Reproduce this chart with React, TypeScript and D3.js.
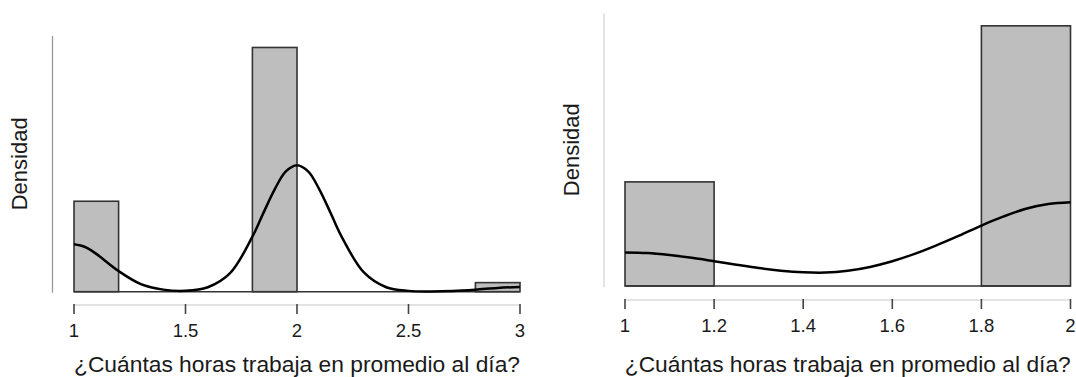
import React from 'react';
import * as d3 from 'd3';

// ---------- Data ----------
const binWidth = 0.2;

// Left panel: histogram densities per 0.2 bin, from 1.0 to 3.0
const leftBinStarts = [1.0, 1.2, 1.4, 1.6, 1.8, 2.0, 2.2, 2.4, 2.6, 2.8];
const leftBinDensity = [1.316, 0, 0, 0, 3.553, 0, 0, 0, 0, 0.132];
const leftTicks = [1, 1.5, 2, 2.5, 3];
const leftTickLabels = ['1', '1.5', '2', '2.5', '3'];
const leftCurveX = [1.0, 1.05, 1.1, 1.2, 1.3, 1.4, 1.5, 1.6, 1.7, 1.8, 1.85, 1.9, 1.95, 2.0, 2.05, 2.1, 2.15, 2.2, 2.3, 2.4, 2.5, 2.6, 2.7, 2.8, 2.9, 3.0];
const leftCurveY = [0.69, 0.65, 0.55, 0.30, 0.11, 0.03, 0.013, 0.065, 0.27, 0.80, 1.15, 1.49, 1.75, 1.84, 1.75, 1.49, 1.15, 0.80, 0.28, 0.065, 0.012, 0.004, 0.011, 0.03, 0.055, 0.07];

// Right panel: histogram densities per 0.2 bin, from 1.0 to 2.0
const rightBinStarts = [1.0, 1.2, 1.4, 1.6, 1.8];
const rightBinDensity = [1.429, 0, 0, 0, 3.571];
const rightTicks = [1, 1.2, 1.4, 1.6, 1.8, 2];
const rightTickLabels = ['1', '1.2', '1.4', '1.6', '1.8', '2'];
const rightCurveX = [1.0, 1.05, 1.1, 1.15, 1.2, 1.25, 1.3, 1.35, 1.4, 1.45, 1.5, 1.55, 1.6, 1.65, 1.7, 1.75, 1.8, 1.85, 1.9, 1.95, 2.0];
const rightCurveY = [0.46, 0.452, 0.425, 0.387, 0.34, 0.292, 0.246, 0.21, 0.188, 0.184, 0.21, 0.262, 0.34, 0.44, 0.56, 0.69, 0.83, 0.955, 1.06, 1.125, 1.15];

const yLabel = 'Densidad';
const xLabel = '¿Cuántas horas trabaja en promedio al día?';

const FONT = '"Liberation Sans", Arial, Helvetica, sans-serif';

type PanelProps = {
  x0: number; x1: number; xDomain: [number, number];
  baseY: number; topY: number; yMax: number;
  axisLineX: number; axisLineColor: string;
  xAxisY: number; tickLabelY: number; titleY: number; yLabelX: number;
  binStarts: number[]; binDensity: number[];
  curveX: number[]; curveY: number[];
  ticks: number[]; tickLabels: string[];
};

function Panel(p: PanelProps) {
  const x = d3.scaleLinear().domain(p.xDomain).range([p.x0, p.x1]);
  const y = d3.scaleLinear().domain([0, p.yMax]).range([p.baseY, p.topY]);
  const line = d3.line<number>()
    .x((_, i) => x(p.curveX[i]))
    .y((d) => y(d))
    .curve(d3.curveCatmullRom.alpha(0.5));
  const midY = (p.baseY + p.topY) / 2;
  return (
    <g>
      {/* y axis line */}
      <line x1={p.axisLineX} x2={p.axisLineX} y1={p.topY} y2={p.baseY + 1} stroke={p.axisLineColor} strokeWidth={1.3} />
      {/* histogram bars */}
      {p.binStarts.map((b, i) => p.binDensity[i] > 0 ? (
        <rect key={i} x={x(b)} y={y(p.binDensity[i])} width={x(b + binWidth) - x(b)} height={y(0) - y(p.binDensity[i])}
          fill="#bebebe" stroke="#333" strokeWidth={1.6} />
      ) : null)}
      {/* zero-height bins baseline */}
      <line x1={x(p.xDomain[0])} x2={x(p.xDomain[1])} y1={y(0)} y2={y(0)} stroke="#333" strokeWidth={1.6} />
      {/* density curve */}
      <path d={line(p.curveY) || ''} fill="none" stroke="#000" strokeWidth={2.5} />
      {/* x axis */}
      <line x1={x(p.xDomain[0])} x2={x(p.xDomain[1])} y1={p.xAxisY} y2={p.xAxisY} stroke="#e3e3e3" strokeWidth={2} />
      {p.ticks.map((t, i) => (
        <g key={i}>
          <line x1={x(t)} x2={x(t)} y1={p.xAxisY - 1} y2={p.xAxisY + 9} stroke="#444" strokeWidth={1.6} />
          <text x={x(t)} y={p.tickLabelY} textAnchor="middle" fontSize={18.5} fill="#1a1a1a" fontFamily={FONT}>{p.tickLabels[i]}</text>
        </g>
      ))}
      <text x={(p.x0 + p.x1) / 2} y={p.titleY} textAnchor="middle" fontSize={22.8} fill="#1a1a1a" fontFamily={FONT}>{xLabel}</text>
      <text transform={`translate(${p.yLabelX},${midY}) rotate(-90)`} textAnchor="middle" fontSize={22} fill="#1a1a1a" fontFamily={FONT}>{yLabel}</text>
    </g>
  );
}

export default function App() {
  return (
    <svg width={1076} height={377} style={{ position: 'absolute', left: 0, top: 0, background: '#fff' }}>
      <rect width={1076} height={377} fill="#fff" />
      <Panel x0={74} x1={520} xDomain={[1, 3]} baseY={291.7} topY={36} yMax={3.72}
        axisLineX={52.5} axisLineColor="#9a9a9a" xAxisY={305} tickLabelY={337} titleY={372} yLabelX={27}
        binStarts={leftBinStarts} binDensity={leftBinDensity} curveX={leftCurveX} curveY={leftCurveY}
        ticks={leftTicks} tickLabels={leftTickLabels} />
      <Panel x0={625} x1={1070.5} xDomain={[1, 2]} baseY={286} topY={13.5} yMax={3.74}
        axisLineX={604} axisLineColor="#d6d6d6" xAxisY={300} tickLabelY={332} titleY={372} yLabelX={579}
        binStarts={rightBinStarts} binDensity={rightBinDensity} curveX={rightCurveX} curveY={rightCurveY}
        ticks={rightTicks} tickLabels={rightTickLabels} />
    </svg>
  );
}
